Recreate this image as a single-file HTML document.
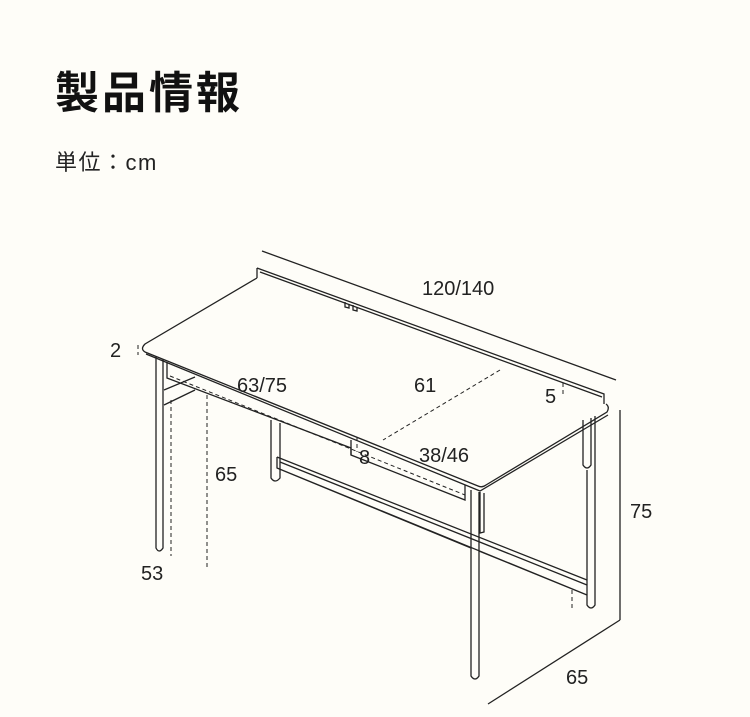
<!DOCTYPE html>
<html><head><meta charset="utf-8"><style>
html,body{margin:0;padding:0;background:#fefdf8;width:750px;height:717px;overflow:hidden}
.t{position:absolute;left:55px;top:57px;font:bold 44px "Liberation Sans","Noto Sans CJK JP",sans-serif;color:#111;letter-spacing:3px}
.u{position:absolute;left:55px;top:145px;font:22px "Liberation Sans","Noto Sans CJK JP",sans-serif;color:#222;letter-spacing:1.5px}
svg{position:absolute;left:0;top:0}
text{font-family:"Liberation Sans",sans-serif;font-size:20px;fill:#222}
</style></head><body>
<div class="t">製品情報</div>
<div class="u">単位：cm</div>
<svg width="750" height="717" viewBox="0 0 750 717" fill="none" stroke="#222" stroke-width="1.3">
<line x1="262" y1="251" x2="616" y2="380"/>
<line x1="620" y1="410" x2="620" y2="620"/>
<line x1="620" y1="620" x2="488" y2="704"/>
<path d="M257 268 L257 278 M257 268 L604 394 L604 404 M260 272 L602 397"/>
<path d="M345 302 l0 5 l4 1 l0 -4 M353 305 l0 5 l4 1 l0 -4"/>
<path d="M257 278 L145 344 Q140 349 145 352 L478 486 Q482 488 486 485 L607 412 Q610 407 606 404"/>
<path d="M146 354 L480 491 L608 415"/>
<path d="M156 356 L156 548 Q159 554 163 548 L163 359"/>
<path d="M471 490 L471 676 Q475 682 479 676 L479 492"/>
<path d="M583 420 L583 465 Q587 471 591 465 L591 418"/>
<path d="M587 470 L587 605 Q591 611 595 605 L595 416"/>
<path d="M271 420 L271 478 Q275 484 280 478 L280 423"/>
<path d="M164 390 L195 377 M164 405 L195 390"/>
<path d="M167 362 L167 378 L351 448 L351 455 L465 500 L465 485"/>
<path d="M351 440 L351 455"/>
<path d="M480 492 L480 533 L484 532 L484 493"/>
<path d="M277 457 L277 468 L587 595 M277 457 L587 580 M280 462 L587 585 M277 468 L471 548 M479 551 L587 595"/>
<g stroke-dasharray="4 3" stroke-width="1">
<path d="M170 376 L465 495"/>
<path d="M500 370 L383 440"/>
<line x1="171" y1="400" x2="171" y2="556"/>
<line x1="207" y1="395" x2="207" y2="568"/>
<line x1="138" y1="345" x2="138" y2="355"/>
<line x1="563" y1="383" x2="563" y2="394"/>
<line x1="572" y1="590" x2="572" y2="610"/>
<line x1="357" y1="437" x2="357" y2="452"/>
</g>
</svg>
<svg width="750" height="717" style="position:absolute;left:0;top:0">
<text x="422" y="295">120/140</text>
<text x="110" y="357">2</text>
<text x="237" y="392">63/75</text>
<text x="414" y="392">61</text>
<text x="545" y="403">5</text>
<text x="359" y="464">8</text>
<text x="419" y="462">38/46</text>
<text x="215" y="481">65</text>
<text x="630" y="518">75</text>
<text x="141" y="580">53</text>
<text x="566" y="684">65</text>
</svg>
</body></html>
